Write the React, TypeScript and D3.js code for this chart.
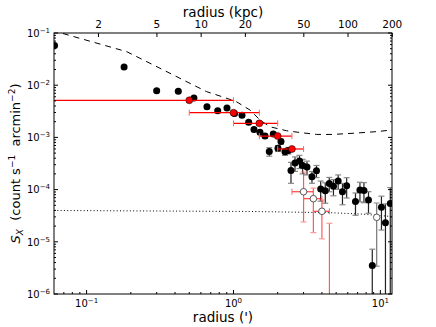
import * as d3 from "d3";
import React from "react";

const W = 436;
const H = 327;

// conversion used for the top axis
const KPC_PER_ARCMIN = 16.6;

// filled black points: radius ('), S_X, 1-sigma error
const obsR = [0.0605, 0.18, 0.3, 0.421, 0.538, 0.66, 0.781, 0.903, 1.016, 1.143, 1.269, 1.379, 1.515, 1.639, 1.753, 1.866, 2.009, 2.106, 2.242, 2.361, 2.463, 2.623, 2.814, 2.958, 3.165, 3.422, 3.673, 3.924, 4.217, 4.488, 4.794, 5.161, 5.521, 5.896, 6.77, 7.26, 7.73, 8.3, 8.81, 10.17, 10.83, 11.68];
const obsS = [0.0576, 0.0223, 0.00784, 0.00764, 0.00569, 0.00387, 0.00323, 0.00366, 0.00286, 0.00265, 0.00195, 0.00142, 0.00125, 0.00106, 0.000537, 0.00116, 0.000618, 0.000835, 0.000532, 0.000561, 0.000232, 0.000323, 0.000353, 0.00029, 0.000271, 0.000177, 0.00023, 0.000103, 9.48e-5, 0.000131, 0.000116, 0.000146, 9.12e-5, 0.000119, 5.92e-5, 9.82e-5, 9.61e-5, 6.32e-5, 3.52e-6, 4.58e-5, 2.32e-5, 5.42e-5];
const obsErr = [0.003, 0.0012, 0.0005, 0.0005, 0.0004, 0.00025, 0.0002, 0.00022, 0.0002, 0.0002, 0.00015, 0.00012, 0.00011, 0.0001, 0.0001, 0.0001, 0.00008, 0.00009, 0.00008, 0.00008, 0.0001, 0.0001, 0.0001, 0.00009, 0.00008, 0.000045, 0.00006, 0.000043, 4e-5, 4e-5, 4e-5, 4.5e-5, 4e-5, 5e-5, 2.7e-5, 4e-5, 4e-5, 2.8e-5, 3.7e-6, 2.9e-5, 3.0e-5, 5.5e-5];

// red binned points
const binR = [0.5, 1.0, 1.5, 2.0, 2.5];
const binS = [0.00514, 0.00297, 0.00186, 0.00106, 0.0006];
const binErr = [0.0002, 0.00012, 0.00008, 0.00006, 0.00005];
const binHalf = 0.5;

// red open points (last one is below zero)
const faintR = [3.0, 3.5, 4.0, 4.5];
const faintS = [9.1e-5, 6.7e-5, 3.84e-5, 0];
const faintErrUp = [1.26e-4, 4.0e-5, 2.5e-5, 2.26e-5];
const faintErrDn = [6.7e-5, 5.2e-5, 2.7e-5, 1e-5];

// grey open point
const openR = [9.44];
const openS = [2.94e-5];
const openErr = [2.6e-5];

// dashed model
const modelR = [0.069, 0.1875, 0.316, 0.532, 0.657, 0.809, 1.04, 1.295, 1.514, 1.77, 2.3, 2.84, 3.68, 4.76, 6.51, 9.44, 12.0];
const modelS = [0.0978, 0.0439, 0.0211, 0.0101, 0.00752, 0.00621, 0.00488, 0.00335, 0.00216, 0.0016, 0.00134, 0.00124, 0.00114, 0.00114, 0.0012, 0.00129, 0.00139];

// dotted background
const bkgR = [0.06, 1.295, 4.54, 7.26, 12.0];
const bkgS = [3.98e-5, 3.81e-5, 3.61e-5, 3.41e-5, 3.05e-5];

const kpcTicks = [2, 5, 10, 20, 50, 100, 200];
const xDecades = [-1, 0, 1];
const yDecades = [-6, -5, -4, -3, -2, -1];

const sup = (d: number) => (d < 0 ? `\u2212${-d}` : `${d}`);

export default function App() {
  const x = d3.scaleLog().domain([0.06, 12]).range([54, 392]);
  const y = d3.scaleLog().domain([1e-6, 0.1]).range([294, 33]);
  const [xl, xr] = x.range();
  const [yb, yt] = y.range();
  const yy = (v: number) => (v > 0 ? y(v) : yb + 20);

  const line = d3
    .line<[number, number]>()
    .x((d) => x(d[0]))
    .y((d) => y(d[1]));

  const modelPts = modelR.map((r, i) => [r, modelS[i]] as [number, number]);
  const bkgPts = bkgR.map((r, i) => [r, bkgS[i]] as [number, number]);

  const minorX: number[] = [];
  for (let d = -2; d <= 1; d++)
    for (let k = 2; k <= 9; k++) {
      const v = k * Math.pow(10, d);
      if (v > 0.06 && v < 12) minorX.push(v);
    }
  const minorY: number[] = [];
  for (let d = -6; d <= -2; d++)
    for (let k = 2; k <= 9; k++) minorY.push(k * Math.pow(10, d));

  const font = "DejaVu Sans";

  // vertical error bar with caps
  const vbar = (key: string, cx: number, lo: number, hi: number, col: string, capCol: string, op = 1) => (
    <g key={key} opacity={op}>
      <line x1={cx} x2={cx} y1={yy(lo)} y2={yy(hi)} stroke={col} strokeWidth={1.2} />
      <line x1={cx - 3} x2={cx + 3} y1={yy(lo)} y2={yy(lo)} stroke={capCol} strokeWidth={1.2} />
      <line x1={cx - 3} x2={cx + 3} y1={yy(hi)} y2={yy(hi)} stroke={capCol} strokeWidth={1.2} />
    </g>
  );

  return (
    <svg width={W} height={H} style={{ position: "absolute", left: 0, top: 0, background: "#fff" }} fontFamily={font}>
      <defs>
        <clipPath id="plot">
          <rect x={xl} y={yt} width={xr - xl} height={yb - yt} />
        </clipPath>
      </defs>

      <g clipPath="url(#plot)">
        <path d={line(modelPts) || ""} fill="none" stroke="#000" strokeWidth={1} strokeDasharray="6,5" />
        <path d={line(bkgPts) || ""} fill="none" stroke="#000" strokeWidth={1} strokeDasharray="1,2.3" />

        {/* black points */}
        {obsR.map((r, i) =>
          vbar(`oe${i}`, x(r), obsS[i] - obsErr[i], obsS[i] + obsErr[i], "#222", "#888")
        )}
        {openR.map((r, i) => vbar(`pe${i}`, x(r), openS[i] - openErr[i], openS[i] + openErr[i], "#777", "#999"))}
        {obsR.map((r, i) => (
          <circle key={`o${i}`} cx={x(r)} cy={y(obsS[i])} r={3.5} fill="#000" />
        ))}
        {openR.map((r, i) => (
          <circle key={`p${i}`} cx={x(r)} cy={y(openS[i])} r={3.3} fill="#fff" stroke="#333" strokeWidth={0.8} />
        ))}

        {/* red open points */}
        {faintR.map((r, i) =>
          vbar(`fe${i}`, x(r), faintS[i] - faintErrDn[i], faintS[i] + faintErrUp[i], "#f00", "#f66", 0.65)
        )}
        {faintR.map((r, i) =>
          faintS[i] > 0 ? (
            <g key={`fh${i}`}>
              <line x1={x(r - binHalf)} x2={x(r + binHalf)} y1={y(faintS[i])} y2={y(faintS[i])} stroke="#f00" strokeOpacity={0.75} strokeWidth={1.2} />
              <line x1={x(r - binHalf)} x2={x(r - binHalf)} y1={y(faintS[i]) - 3} y2={y(faintS[i]) + 3} stroke="#f66" strokeWidth={1} />
              <line x1={x(r + binHalf)} x2={x(r + binHalf)} y1={y(faintS[i]) - 3} y2={y(faintS[i]) + 3} stroke="#f66" strokeWidth={1} />
            </g>
          ) : null
        )}
        {faintR.map((r, i) =>
          faintS[i] > 0 ? (
            <circle key={`f${i}`} cx={x(r)} cy={y(faintS[i])} r={3.3} fill="#fff" stroke="#333" strokeWidth={0.8} />
          ) : null
        )}

        {/* red binned points */}
        {binR.map((r, i) => {
          const lo = r - binHalf;
          const x0 = lo > 0 ? x(lo) : xl - 20;
          const x1 = x(r + binHalf);
          const cy = y(binS[i]);
          return (
            <g key={`b${i}`}>
              <line x1={x0} x2={x1} y1={cy} y2={cy} stroke="#f00" strokeWidth={1.2} />
              <line x1={x0} x2={x0} y1={cy - 3} y2={cy + 3} stroke="#f66" strokeWidth={1} />
              <line x1={x1} x2={x1} y1={cy - 3} y2={cy + 3} stroke="#f66" strokeWidth={1} />
              <line x1={x(r)} x2={x(r)} y1={y(binS[i] - binErr[i])} y2={y(binS[i] + binErr[i])} stroke="#f00" strokeWidth={1.2} />
              <circle cx={x(r)} cy={cy} r={3.5} fill="#f00" stroke="#000" strokeWidth={0.5} />
            </g>
          );
        })}
      </g>

      {/* frame */}
      <rect x={xl} y={yt} width={xr - xl} height={yb - yt} fill="none" stroke="#000" strokeWidth={1} />

      {/* bottom x ticks */}
      {xDecades.map((d) => (
        <g key={`xd${d}`}>
          <line x1={x(10 ** d)} x2={x(10 ** d)} y1={yb} y2={yb - 4} stroke="#000" />
          <text x={x(10 ** d)} y={306.5} textAnchor="middle" fontSize={10}>
            10<tspan dy={-4} fontSize={7}>{sup(d)}</tspan>
          </text>
        </g>
      ))}
      {minorX.map((v) => (
        <line key={`xm${v}`} x1={x(v)} x2={x(v)} y1={yb} y2={yb - 2} stroke="#000" />
      ))}

      {/* top kpc ticks */}
      {kpcTicks.map((k) => {
        const px = x(k / KPC_PER_ARCMIN);
        return (
          <g key={`k${k}`}>
            <line x1={px} x2={px} y1={yt} y2={yt + 4} stroke="#000" />
            <text x={px} y={28.3} textAnchor="middle" fontSize={10.5}>
              {k}
            </text>
          </g>
        );
      })}

      {/* y ticks, both sides */}
      {yDecades.map((d) => (
        <g key={`yd${d}`}>
          <line x1={xl} x2={xl + 4} y1={y(10 ** d)} y2={y(10 ** d)} stroke="#000" />
          <line x1={xr} x2={xr - 4} y1={y(10 ** d)} y2={y(10 ** d)} stroke="#000" />
          <text x={50} y={y(10 ** d) + 3.7} textAnchor="end" fontSize={10}>
            10<tspan dy={-4} fontSize={7}>{sup(d)}</tspan>
          </text>
        </g>
      ))}
      {minorY.map((v) => (
        <g key={`ym${v}`}>
          <line x1={xl} x2={xl + 2} y1={y(v)} y2={y(v)} stroke="#000" />
          <line x1={xr} x2={xr - 2} y1={y(v)} y2={y(v)} stroke="#000" />
        </g>
      ))}

      {/* axis labels */}
      <text x={(xl + xr) / 2} y={16.5} textAnchor="middle" fontSize={13.5}>
        radius (kpc)
      </text>
      <text x={(xl + xr) / 2} y={322} textAnchor="middle" fontSize={13.5}>
        radius (')
      </text>
      <text transform={`translate(20,${(yt + yb) / 2}) rotate(-90)`} textAnchor="middle" fontSize={13}>
        <tspan fontStyle="italic">S</tspan>
        <tspan fontStyle="italic" fontSize={9} dy={3}>X</tspan>
        <tspan dy={-3}>{"\u00a0\u00a0(count s"}</tspan>
        <tspan fontSize={9} dy={-5}>{"\u22121"}</tspan>
        <tspan dy={5}>{"\u00a0\u00a0arcmin"}</tspan>
        <tspan fontSize={9} dy={-5}>{"\u22122"}</tspan>
        <tspan dy={5}>)</tspan>
      </text>
    </svg>
  );
}
